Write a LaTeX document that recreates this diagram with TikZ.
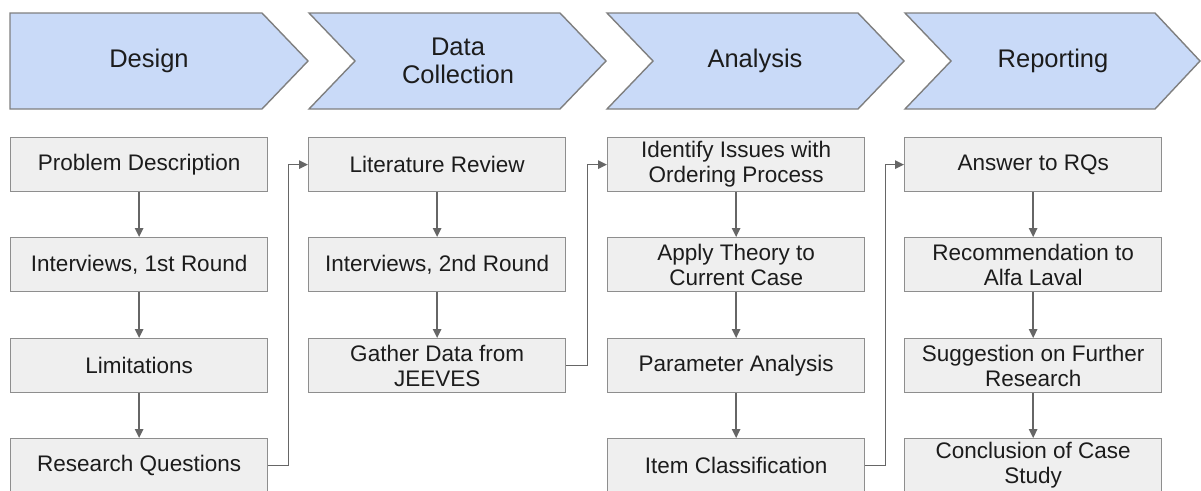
\documentclass[tikz,border=0pt]{standalone}
\usepackage{fontspec}
\setmainfont{Liberation Sans}
\usetikzlibrary{arrows.meta}

\definecolor{phasefill}{HTML}{C9DAF8}
\definecolor{phaseline}{HTML}{7F7F7F}
\definecolor{boxfill}{HTML}{EFEFEF}
\definecolor{boxline}{HTML}{8E8E8E}
\definecolor{linkcol}{HTML}{666666}
\definecolor{txt}{HTML}{1C1C1C}

\tikzset{
  phase/.style={draw=phaseline, fill=phasefill, line width=1.4pt, line join=miter},
  phaselabel/.style={text=txt, align=center, inner sep=0pt,
    font=\fontsize{25.5}{28}\selectfont},
  stepbox/.style={draw=boxline, fill=boxfill, line width=1.3pt,
    minimum width=257pt, minimum height=54pt, inner sep=0pt,
    anchor=north west, text=txt, align=center,
    font=\fontsize{22.5}{25}\selectfont},
  link/.style={draw=linkcol, line width=1.4pt,
    -{Triangle[length=9pt,width=8.5pt]}},
}

\begin{document}
\begin{tikzpicture}[x=1pt,y=-1pt]
\useasboundingbox (0,0) rectangle (1201,490);

% phase chevrons
\draw[phase] (10,13) -- (262,13) -- (308,61) -- (262,109) -- (10,109) -- cycle;
\draw[phase] (309,13) -- (560,13) -- (606,61) -- (560,109) -- (309,109) -- (355,61) -- cycle;
\draw[phase] (607,13) -- (858,13) -- (904,61) -- (858,109) -- (607,109) -- (653,61) -- cycle;
\draw[phase] (905,13) -- (1155,13) -- (1200,61) -- (1155,109) -- (905,109) -- (951,61) -- cycle;

\node[phaselabel] (design)   at (149,61)  {Design};
\node[phaselabel] (datacoll) at (458,61)  {Data\\Collection};
\node[phaselabel] (analysis) at (755,61)  {Analysis};
\node[phaselabel] (report)   at (1053,61) {Reporting};

% Design column
\node[stepbox] (pd)  at (10,137) {Problem Description};
\node[stepbox] (iv1) at (10,237) {Interviews, 1st Round};
\node[stepbox] (lim) at (10,338) {Limitations};
\node[stepbox] (rq)  at (10,438) {Research Questions};

% Data collection column
\node[stepbox] (lit) at (308,137) {Literature Review};
\node[stepbox] (iv2) at (308,237) {Interviews, 2nd Round};
\node[stepbox] (jee) at (308,338) {Gather Data from\\JEEVES};

% Analysis column
\node[stepbox] (iss) at (607,137) {Identify Issues with\\Ordering Process};
\node[stepbox] (thy) at (607,237) {Apply Theory to\\Current Case};
\node[stepbox] (par) at (607,338) {Parameter Analysis};
\node[stepbox] (cls) at (607,438) {Item Classification};

% Reporting column
\node[stepbox] (ans) at (904,137) {Answer to RQs};
\node[stepbox] (rec) at (904,237) {Recommendation to\\Alfa Laval};
\node[stepbox] (sug) at (904,338) {Suggestion on Further\\Research};
\node[stepbox] (con) at (904,438) {Conclusion of Case\\Study};

% vertical flow inside each column
\draw[link] (pd) -- (iv1);
\draw[link] (iv1) -- (lim);
\draw[link] (lim) -- (rq);
\draw[link] (lit) -- (iv2);
\draw[link] (iv2) -- (jee);
\draw[link] (iss) -- (thy);
\draw[link] (thy) -- (par);
\draw[link] (par) -- (cls);
\draw[link] (ans) -- (rec);
\draw[link] (rec) -- (sug);
\draw[link] (sug) -- (con);

% hand-over between phases
\draw[link] (rq.east)  -- ++(20,0) |- (lit.west);
\draw[link] (jee.east) -- ++(21,0) |- (iss.west);
\draw[link] (cls.east) -- ++(20,0) |- (ans.west);
\end{tikzpicture}
\end{document}
